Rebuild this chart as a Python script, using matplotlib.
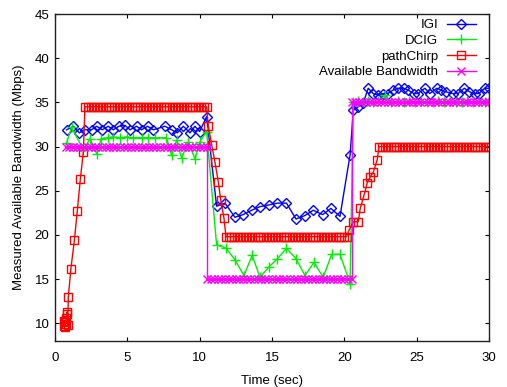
import matplotlib
matplotlib.use("Agg")
import matplotlib.pyplot as plt

plt.rcParams['font.family'] = ['Liberation Sans', 'DejaVu Sans']
plt.rcParams['font.size'] = 9.5

# IGI estimates
igi_t = [0.81, 1.27, 1.68, 2.07, 2.53, 2.88, 3.27, 3.68, 4.03, 4.42, 4.84, 5.18,
         5.64, 5.99, 6.40, 6.80, 7.60, 8.06, 8.45, 8.87, 9.33, 9.67, 10.0, 10.48,
         11.17, 11.75, 12.44, 13.0, 13.6, 14.17, 14.8, 15.37, 16.0, 16.66, 17.28,
         17.85, 18.5, 19.07, 19.7,
         20.4, 20.62, 20.96, 21.3, 21.65, 22.0, 22.35, 22.7, 23.0, 23.38, 23.7,
         24.1, 24.4, 24.8, 25.1, 25.57, 25.9, 26.4, 26.7, 27.0, 27.5, 27.85, 28.3,
         28.65, 29.0, 29.3, 29.7, 30.0]
igi_v = [31.9, 32.3, 31.55, 31.9, 31.9, 32.3, 31.9, 32.3, 31.9, 32.3, 32.4, 31.9,
         32.3, 31.9, 32.3, 31.9, 32.3, 31.9, 31.55, 32.3, 31.55, 32.3, 31.7, 33.4,
         23.25, 23.6, 22.0, 22.3, 22.8, 23.2, 23.4, 23.6, 23.6, 21.8, 22.2,
         22.8, 22.3, 23.0, 22.1,
         29.1, 34.1, 34.5, 34.9, 36.6, 36.0, 35.8, 36.0, 36.0, 36.4, 36.6,
         36.6, 36.4, 36.0, 36.0, 36.6, 36.0, 36.6, 36.4, 36.2, 36.0, 36.0, 36.6,
         36.2, 36.0, 36.0, 36.6, 36.6]

# DCIG estimates
dcig_t = [0.8, 1.15, 1.96, 2.42, 2.88, 3.2, 3.68, 4.0, 4.5, 4.96, 5.4, 6.0, 6.45,
          6.9, 7.7, 8.06, 8.4, 8.75, 9.2, 9.68, 10.0, 10.48,
          11.17, 11.82, 12.44, 13.06, 13.63, 14.17, 14.8, 15.37, 16.0, 16.66,
          17.28, 17.9, 18.54, 19.12, 19.7, 20.4,
          20.62, 20.96, 21.3, 21.65, 22.0, 22.35, 22.8, 23.2, 23.7, 24.1, 24.5,
          24.9, 25.3, 25.7, 26.1, 26.5, 26.9, 27.3, 27.7, 28.1, 28.5, 28.9, 29.3,
          29.7, 30.0]
dcig_v = [30.4, 32.2, 29.6, 30.9, 29.2, 30.9, 31.0, 31.1, 31.0, 31.1, 31.0, 31.0, 31.0,
          31.0, 31.0, 29.0, 30.7, 28.7, 30.5, 28.6, 30.5, 31.7,
          18.9, 18.5, 17.2, 15.4, 17.7, 15.2, 16.4, 17.3, 18.5, 17.3,
          15.4, 16.9, 15.2, 17.8, 17.8, 14.5,
          35.0, 35.1, 35.0, 35.2, 35.0, 35.1, 35.8, 35.0, 35.1, 35.0, 35.2,
          35.0, 35.1, 35.0, 35.0, 35.2, 35.0, 35.1, 35.0, 35.0, 35.2, 35.0, 35.1,
          35.0, 35.0]

# pathChirp: ramps with read values, flat runs at a single level
chirp_ramp_t = [0.6, 0.62, 0.66, 0.7, 0.74, 0.76, 0.8, 0.84, 0.88, 0.92, 1.1,
                1.34, 1.54, 1.75, 1.96]
chirp_ramp_v = [9.7, 10.3, 9.6, 10.1, 9.9, 10.6, 11.0, 11.3, 9.8, 13.0, 16.2,
                19.4, 22.7, 26.3, 29.4]
chirp_top_t = [2.07, 2.3, 2.5, 2.7, 2.9, 3.1, 3.3, 3.5, 3.7, 3.9, 4.1, 4.3, 4.5,
               4.7, 4.9, 5.1, 5.3, 5.5, 5.7, 5.9, 6.1, 6.3, 6.5, 6.7, 6.9, 7.1,
               7.3, 7.5, 7.7, 7.9, 8.1, 8.3, 8.5, 8.7, 8.9, 9.1, 9.3, 9.5, 9.7,
               9.9, 10.1, 10.3, 10.48]
chirp_top_level = 34.5
chirp_drop_t = [10.6, 10.83, 11.06, 11.29, 11.45, 11.68]
chirp_drop_v = [32.3, 30.2, 28.2, 26.0, 24.0, 21.9]
chirp_mid_t = [11.82, 12.0, 12.2, 12.4, 12.6, 12.8, 13.0, 13.2, 13.4, 13.6, 13.8,
               14.0, 14.2, 14.4, 14.6, 14.8, 15.0, 15.2, 15.4, 15.6, 15.8, 16.0,
               16.2, 16.4, 16.6, 16.8, 17.0, 17.2, 17.4, 17.6, 17.8, 18.0, 18.2,
               18.4, 18.6, 18.8, 19.0, 19.2, 19.4, 19.6, 19.8, 20.0, 20.15]
chirp_mid_level = 19.8
chirp_rise_t = [20.34, 20.62, 20.96, 21.1, 21.36, 21.58, 21.8, 22.0, 22.27]
chirp_rise_v = [20.6, 21.5, 21.5, 23.0, 24.5, 25.9, 26.6, 27.1, 28.5]
chirp_end_t = [22.4, 22.6, 22.8, 23.0, 23.2, 23.4, 23.6, 23.8, 24.0, 24.2, 24.4,
               24.6, 24.8, 25.0, 25.2, 25.4, 25.6, 25.8, 26.0, 26.2, 26.4, 26.6,
               26.8, 27.0, 27.2, 27.4, 27.6, 27.8, 28.0, 28.2, 28.4, 28.6, 28.8,
               29.0, 29.2, 29.4, 29.6, 29.8, 30.0]
chirp_end_level = 30.0

# available bandwidth (step function)
avail_t1 = [0.75, 1.0, 1.25, 1.5, 1.75, 2.0, 2.25, 2.5, 2.75, 3.0, 3.25, 3.5, 3.75,
            4.0, 4.25, 4.5, 4.75, 5.0, 5.25, 5.5, 5.75, 6.0, 6.25, 6.5, 6.75, 7.0,
            7.25, 7.5, 7.75, 8.0, 8.25, 8.5, 8.75, 9.0, 9.25, 9.5, 9.75, 10.0,
            10.25, 10.48]
avail_t2 = [10.48, 10.75, 11.0, 11.25, 11.5, 11.75, 12.0, 12.25, 12.5, 12.75, 13.0,
            13.25, 13.5, 13.75, 14.0, 14.25, 14.5, 14.75, 15.0, 15.25, 15.5, 15.75,
            16.0, 16.25, 16.5, 16.75, 17.0, 17.25, 17.5, 17.75, 18.0, 18.25, 18.5,
            18.75, 19.0, 19.25, 19.5, 19.75, 20.0, 20.25, 20.5]
avail_t3 = [20.5, 20.75, 21.0, 21.25, 21.5, 21.75, 22.0, 22.25, 22.5, 22.75, 23.0,
            23.25, 23.5, 23.75, 24.0, 24.25, 24.5, 24.75, 25.0, 25.25, 25.5, 25.75,
            26.0, 26.25, 26.5, 26.75, 27.0, 27.25, 27.5, 27.75, 28.0, 28.25, 28.5,
            28.75, 29.0, 29.25, 29.5, 29.75, 30.0]
avail_levels = [30.0, 15.0, 35.0]

chirp_t = chirp_ramp_t + chirp_top_t + chirp_drop_t + chirp_mid_t + chirp_rise_t + chirp_end_t
chirp_v = (chirp_ramp_v + [chirp_top_level] * len(chirp_top_t) + chirp_drop_v
           + [chirp_mid_level] * len(chirp_mid_t) + chirp_rise_v
           + [chirp_end_level] * len(chirp_end_t))

avail_t = avail_t1 + avail_t2 + avail_t3
avail_v = []
for seg, lvl in zip([avail_t1, avail_t2, avail_t3], avail_levels):
    avail_v += [lvl] * len(seg)

fig = plt.figure(figsize=(5.07, 3.87), dpi=100)
ax = fig.add_axes([55 / 507, 1 - 341 / 387, 434 / 507, 327 / 387])

ax.plot(igi_t, igi_v, color='#0000ff', lw=1, marker='D', ms=5.4, mfc='none', mew=1, label='IGI')
ax.plot(dcig_t, dcig_v, color='#00ee00', lw=1, marker='+', ms=7.5, mew=1, label='DCIG')
ax.plot(chirp_t, chirp_v, color='#ff0000', lw=1, marker='s', ms=6.2, mfc='none', mew=1, label='pathChirp')
ax.plot(avail_t, avail_v, color='#ff00ff', lw=1, marker='x', ms=5.5, mew=1, label='Available Bandwidth')

ax.set_xlim(0, 30)
ax.set_ylim(8, 45)
ax.set_xticks([0, 5, 10, 15, 20, 25, 30])
ax.set_yticks([10, 15, 20, 25, 30, 35, 40, 45])
ax.tick_params(direction='in', length=3, width=0.8, top=True, right=True, labelsize=9.5)
ax.tick_params(axis='x', pad=8)
ax.tick_params(axis='y', pad=4)
for s in ax.spines.values():
    s.set_linewidth(1)
    s.set_color('#222222')

ax.set_xlabel('Time (sec)', fontsize=9.5)
ax.set_ylabel('Measured Available Bandwidth (Mbps)', fontsize=9.5)
ax.xaxis.set_label_coords(0.5, -0.105)
ax.yaxis.set_label_coords(-0.07, 0.5)

ax.legend(loc='upper right', bbox_to_anchor=(1 - 13 / 434, 1 - 5 / 327), frameon=False,
          markerfirst=False, borderpad=0, borderaxespad=0, handlelength=2.2,
          handletextpad=0.68, labelspacing=0.26, fontsize=9.5)

fig.savefig('out.png', dpi=100)
